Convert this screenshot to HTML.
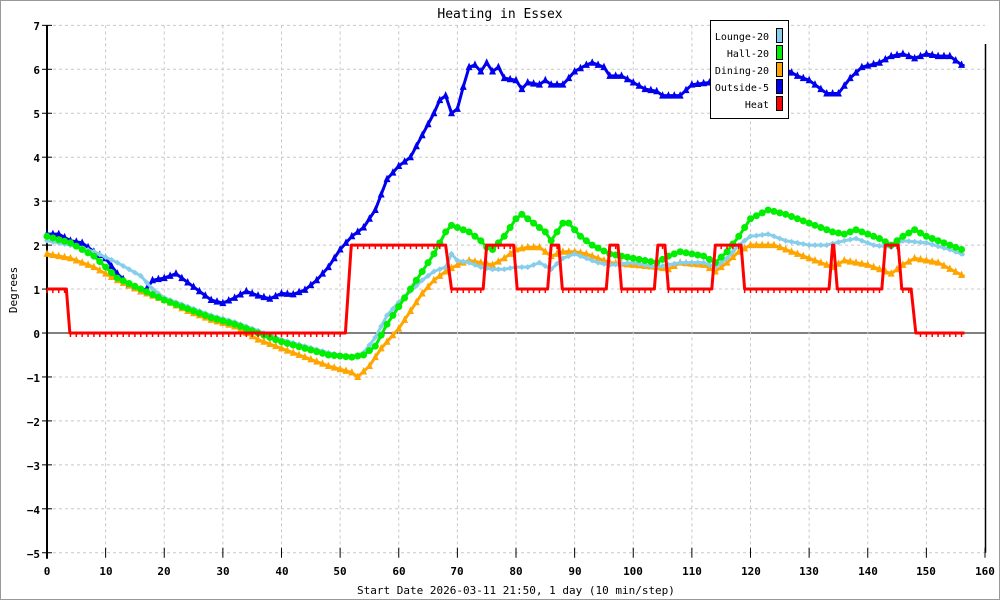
<!DOCTYPE html>
<html><head><style>
body{margin:0;background:#fff}
svg{display:block}
text{font-family:"DejaVu Sans Mono","Liberation Mono",monospace;fill:#000}
</style></head><body>
<svg id="s" width="1000" height="600" xmlns="http://www.w3.org/2000/svg">
<rect x="0.5" y="0.5" width="999" height="599" fill="#fff" stroke="#999"/>
<g id="grid"></g>
<text x="500" y="18" font-size="13" text-anchor="middle">Heating in Essex</text>
<g font-size="11" text-anchor="end" font-weight="bold">
<text x="40" y="30">7</text><text x="40" y="74">6</text><text x="40" y="118">5</text><text x="40" y="162">4</text>
<text x="40" y="206">3</text><text x="40" y="250">2</text><text x="40" y="294">1</text><text x="40" y="338">0</text>
<text x="40" y="382">−1</text><text x="40" y="426">−2</text><text x="40" y="470">−3</text><text x="40" y="514">−4</text><text x="40" y="558">−5</text>
</g>
<g font-size="11" text-anchor="middle" font-weight="bold">
<text x="47" y="575">0</text><text x="106" y="575">10</text><text x="164" y="575">20</text><text x="223" y="575">30</text>
<text x="282" y="575">40</text><text x="340" y="575">50</text><text x="399" y="575">60</text><text x="457" y="575">70</text>
<text x="516" y="575">80</text><text x="575" y="575">90</text><text x="633" y="575">100</text><text x="692" y="575">110</text>
<text x="751" y="575">120</text><text x="809" y="575">130</text><text x="868" y="575">140</text><text x="926" y="575">150</text><text x="985" y="575">160</text>
</g>
<text x="516" y="594" font-size="11" text-anchor="middle">Start Date 2026-03-11 21:50, 1 day (10 min/step)</text>
<text x="17" y="290" font-size="11" text-anchor="middle" transform="rotate(-90 17 290)">Degrees</text>
<g id="series"></g>
<g id="legend">
<rect x="710.5" y="20.5" width="78" height="98" fill="#fff" stroke="#000"/>
<g font-size="10" text-anchor="end">
<text x="769" y="40">Lounge-20</text><text x="769" y="57">Hall-20</text><text x="769" y="74">Dining-20</text>
<text x="769" y="91">Outside-5</text><text x="769" y="108">Heat</text>
</g>
<rect x="776.5" y="28.5" width="6" height="14" fill="#87ceeb" stroke="#000"/>
<rect x="776.5" y="45.5" width="6" height="14" fill="#00ee00" stroke="#000"/>
<rect x="776.5" y="62.5" width="6" height="14" fill="#ffa500" stroke="#000"/>
<rect x="776.5" y="79.5" width="6" height="14" fill="#0000ee" stroke="#000"/>
<rect x="776.5" y="96.5" width="6" height="14" fill="#ff0000" stroke="#000"/>
</g>
</svg>
<script>
var NS="http://www.w3.org/2000/svg";
function X(t){return 47+t*5.8625}
function Y(v){return 333-v*43.95}
function el(p,n,a){var e=document.createElementNS(NS,n);for(var k in a)e.setAttribute(k,a[k]);p.appendChild(e);return e}
var g=document.getElementById('grid');
for(var v=-5;v<=7;v++){el(g,'line',{x1:47,x2:985,y1:Y(v),y2:Y(v),stroke:v==0?'#000':'#c8c8c8','stroke-dasharray':v==0?'':'3,3','stroke-width':1});
 el(g,'line',{x1:42,x2:52,y1:Y(v),y2:Y(v),stroke:'#000'});}
for(var t=10;t<=150;t+=10){el(g,'line',{x1:X(t),x2:X(t),y1:Y(7),y2:Y(-5),stroke:'#c8c8c8','stroke-dasharray':'3,3'});}
for(var t=0;t<=160;t+=10){el(g,'line',{x1:X(t),x2:X(t),y1:Y(-5)-5,y2:Y(-5)+5,stroke:'#000'});}
el(g,'line',{x1:47,x2:47,y1:Y(7),y2:Y(-5)+6,stroke:'#000','stroke-width':2});
el(g,'line',{x1:985.5,x2:985.5,y1:44,y2:Y(-5),stroke:'#000','stroke-width':1.5});
function interp(k,t){for(var i=0;i<k.length-1;i+=2){var t0=k[i],v0=k[i+1],t1=k[i+2],v1=k[i+3];if(t>=t0&&t<=t1)return v0+(v1-v0)*(t-t0)/(t1-t0)}return k[k.length-1]}
var T=156.5;
var S=[
{c:'#0000ee',m:'tri',k:[0,2.25,2,2.25,4,2.1,6,2.05,8,1.85,10,1.7,12,1.35,14,1.1,16,0.95,17,1.0,18,1.2,20,1.25,22,1.35,24,1.15,26,0.95,28,0.75,30,0.68,32,0.8,34,0.95,36,0.85,38,0.78,40,0.9,42,0.88,44,0.98,46,1.2,48,1.5,50,1.9,52,2.2,54,2.4,56,2.8,58,3.5,60,3.8,62,4.0,64,4.5,66,5.0,67,5.3,68,5.4,69,5.0,70,5.1,71,5.6,72,6.05,73,6.1,74,5.95,75,6.15,76,5.95,77,6.05,78,5.8,80,5.75,81,5.55,82,5.7,84,5.65,85,5.75,86,5.65,88,5.65,90,5.95,92,6.1,93,6.15,95,6.05,96,5.85,98,5.85,100,5.7,102,5.55,104,5.5,105,5.4,108,5.4,110,5.65,113,5.7,116,5.9,119,6.05,121,6.25,123,6.2,126,6.0,128,5.85,130,5.75,132,5.55,133,5.45,135,5.45,137,5.8,139,6.05,142,6.15,144,6.3,146,6.35,148,6.25,150,6.35,152,6.3,154,6.3,156,6.1,157,6.05]},
{c:'#ffa500',m:'tri',k:[0,1.8,4,1.7,8,1.5,12,1.2,16,0.95,20,0.75,24,0.5,28,0.3,32,0.15,36,-0.15,40,-0.35,44,-0.55,48,-0.75,52,-0.9,53,-1.0,55,-0.75,57,-0.35,60,0.1,62,0.5,64,0.9,66,1.2,68,1.4,70,1.55,72,1.65,74,1.6,76,1.55,78,1.7,80,1.9,82,1.95,84,1.95,86,1.75,88,1.85,90,1.85,92,1.8,94,1.7,96,1.6,100,1.55,104,1.5,106,1.45,108,1.6,112,1.55,114,1.4,116,1.6,118,1.85,120,2.0,124,2.0,128,1.8,132,1.6,134,1.5,136,1.65,140,1.55,144,1.35,146,1.55,148,1.7,152,1.6,157,1.25]},
{c:'#87ceeb',m:'dia',k:[0,2.1,4,2.0,8,1.85,12,1.6,16,1.3,18,1.0,20,0.8,24,0.6,28,0.4,32,0.25,36,0.05,40,-0.15,44,-0.3,48,-0.45,52,-0.55,54,-0.45,56,-0.1,58,0.4,60,0.7,62,0.95,64,1.2,66,1.4,68,1.5,69,1.8,70,1.65,72,1.6,74,1.5,76,1.45,78,1.45,80,1.5,82,1.5,84,1.6,86,1.45,88,1.7,90,1.8,92,1.7,94,1.6,96,1.55,100,1.6,104,1.5,106,1.55,108,1.6,112,1.6,114,1.5,116,1.7,118,2.0,120,2.2,123,2.25,126,2.1,130,2.0,133,2.0,136,2.1,138,2.15,141,2.0,144,1.95,146,2.1,150,2.05,154,1.9,157,1.75]},
{c:'#00ee00',m:'circ',k:[0,2.2,4,2.05,8,1.75,12,1.25,16,1.0,20,0.75,24,0.55,28,0.35,32,0.2,36,0.0,40,-0.2,44,-0.35,48,-0.5,52,-0.55,54,-0.5,56,-0.3,58,0.2,60,0.6,62,1.0,64,1.4,66,1.8,68,2.3,69,2.45,72,2.3,74,2.1,75,1.95,76,1.9,78,2.2,80,2.6,81,2.7,83,2.5,85,2.3,86,2.1,88,2.5,89,2.5,91,2.2,93,2.0,96,1.8,100,1.7,102,1.65,104,1.6,106,1.75,108,1.85,112,1.75,114,1.6,116,1.85,118,2.2,120,2.6,123,2.8,126,2.7,130,2.5,134,2.3,136,2.25,138,2.35,140,2.25,142,2.15,144,2.0,146,2.2,148,2.35,150,2.2,154,2.0,157,1.85]},
{c:'#ff0000',m:'tick',k:[0,1,3.3,1,3.9,0,50.9,0,51.9,2,68,2,69,1,74.4,1,75,2,79.6,2,80.2,1,85.4,1,86,2,87.3,2,87.9,1,95.4,1,96,2,97.4,2,98,1,103.6,1,104.2,2,105.4,2,106,1,113.4,1,114,2,118.4,2,119,1,133.4,1,134,2,134.2,2,134.8,1,142.4,1,143,2,145.2,2,145.8,1,147.4,1,148.2,0,157,0]}
];
var sg=document.getElementById('series');
S.forEach(function(s){
 var pts=[];
 if(s.m=='tick'){for(var i=0;i<s.k.length;i+=2)pts.push(X(Math.min(s.k[i],T))+','+Y(s.k[i+1]));}
 else for(var t=0;t<=T;t+=0.5)pts.push(X(t)+','+Y(interp(s.k,t)));
 el(sg,'polyline',{points:pts.join(' '),fill:'none',stroke:s.c,'stroke-width':3,'stroke-linejoin':'round'});
 for(var t=0;t<=T;t+=1){var x=X(t),y=Y(interp(s.k,t));
  if(s.m=='tri')el(sg,'polygon',{points:(x-3.5)+','+(y+3)+' '+(x+3.5)+','+(y+3)+' '+x+','+(y-4.5),fill:s.c});
  else if(s.m=='circ')el(sg,'circle',{cx:x,cy:y,r:3.5,fill:s.c});
  else if(s.m=='dia')el(sg,'polygon',{points:(x-3)+','+y+' '+x+','+(y-3)+' '+(x+3)+','+y+' '+x+','+(y+3),fill:s.c});
  else el(sg,'line',{x1:x,x2:x,y1:y,y2:y+4,stroke:s.c,'stroke-width':1.5});
 }
});
document.getElementById('s').appendChild(document.getElementById('legend'));
</script>
</body></html>
